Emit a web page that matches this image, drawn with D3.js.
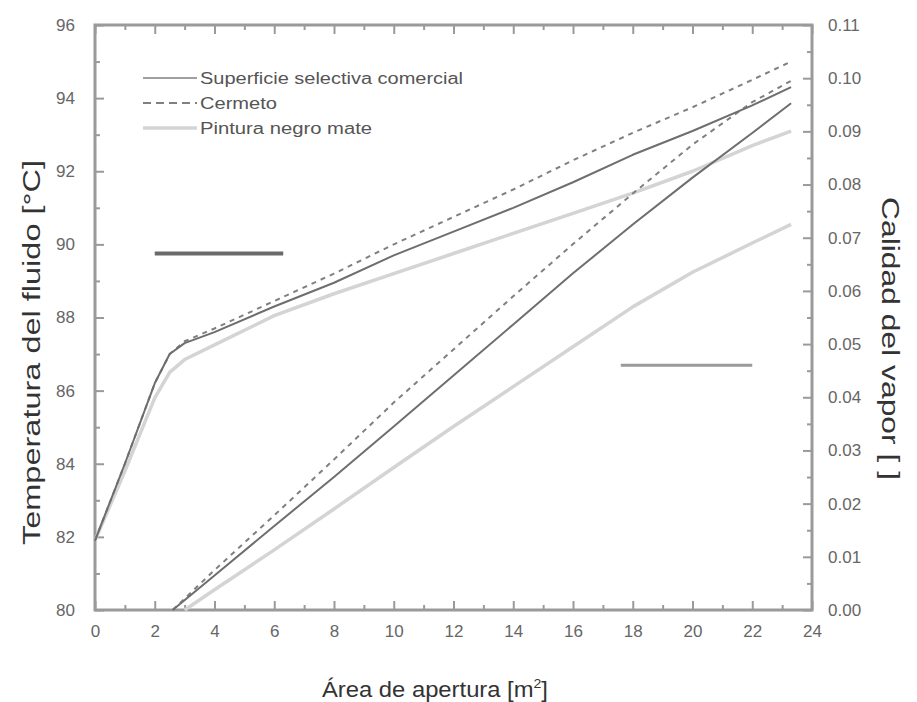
<!DOCTYPE html>
<html>
<head>
<meta charset="utf-8">
<script src="https://cdn.jsdelivr.net/npm/d3@7"></script>
<style>
  body { margin: 0; background: #fff; }
  svg { font-family: "Liberation Sans", Arial, sans-serif; }
</style>
</head>
<body>
<svg width="917" height="702"></svg>
<script>
// Temperature curves (left axis)
const area = [0, 1, 2, 2.5, 3, 4, 6, 8, 10, 12, 14, 16, 18, 20, 22, 23.3];
const tempSuperficie = [81.9, 84.0, 86.2, 87.0, 87.3, 87.6, 88.3, 88.95, 89.7, 90.35, 91.0, 91.7, 92.45, 93.1, 93.8, 94.3];
const tempCermeto    = [81.9, 84.0, 86.2, 87.0, 87.35, 87.7, 88.45, 89.2, 90.0, 90.75, 91.5, 92.3, 93.05, 93.75, 94.5, 95.0];
const tempPintura    = [81.9, 83.8, 85.8, 86.5, 86.85, 87.25, 88.05, 88.65, 89.2, 89.75, 90.3, 90.85, 91.4, 92.0, 92.7, 93.1];

// Steam quality curves (right axis)
const areaQ = [2.6, 4, 6, 8, 10, 12, 14, 16, 18, 20, 22, 23.3];
const qualSuperficie = [0, 0.0065, 0.0158, 0.025, 0.0345, 0.0441, 0.0537, 0.0633, 0.0725, 0.0813, 0.0897, 0.0953];
const qualCermeto    = [0, 0.0075, 0.0178, 0.0283, 0.039, 0.049, 0.059, 0.0688, 0.0783, 0.0875, 0.0955, 0.0995];
const areaQP = [3.0, 4, 6, 8, 10, 12, 14, 16, 18, 20, 22, 23.3];
const qualPintura    = [0, 0.0038, 0.0113, 0.019, 0.0268, 0.0345, 0.042, 0.0495, 0.057, 0.0635, 0.069, 0.0725];

const seriesNames = ["Superficie selectiva comercial", "Cermeto", "Pintura negro mate"];
const xTicks = d3.range(0, 25, 2);
const yTicks = d3.range(80, 97, 2);
const y2Ticks = d3.range(0, 0.1101, 0.01);

// arrows pointing to the axis each family belongs to
const arrowLeft = { x0: 2.0, x1: 6.3, t: 89.75 };
const arrowRight = { x0: 17.6, x1: 22.0, q: 0.046 };

const svg = d3.select("svg");
const margin = { left: 95, right: 105, top: 25, bottom: 92 };
const width = +svg.attr("width");
const height = +svg.attr("height");

const x = d3.scaleLinear().domain([0, 24]).range([margin.left, width - margin.right]);
const y = d3.scaleLinear().domain([80, 96]).range([height - margin.bottom, margin.top]);
const y2 = d3.scaleLinear().domain([0, 0.11]).range([height - margin.bottom, margin.top]);

const styles = [
  { stroke: "#6e6e6e", width: 2, dash: null },
  { stroke: "#808080", width: 2, dash: "5,5" },
  { stroke: "#d4d4d4", width: 3.5, dash: null }
];

// axes
const axisColor = "#9a9a9a";
function styleAxis(g) {
  g.select(".domain").remove();
  g.selectAll(".tick line").attr("stroke", axisColor).attr("stroke-width", 2);
  g.selectAll(".tick text").attr("fill", "#666").attr("font-size", 17);
}

const bottom = height - margin.bottom;
svg.append("g").attr("transform", `translate(0,${bottom})`)
  .call(d3.axisBottom(x).tickValues(xTicks).tickSize(-9).tickPadding(15).tickFormat(d3.format("d")))
  .call(styleAxis);
svg.append("g").attr("transform", `translate(0,${bottom})`)
  .call(d3.axisBottom(x).tickValues(d3.range(1, 24, 2)).tickSize(-5).tickFormat(""))
  .call(styleAxis);
svg.append("g").attr("transform", `translate(0,${margin.top})`)
  .call(d3.axisTop(x).tickValues(xTicks).tickSize(-9).tickFormat(""))
  .call(styleAxis);
svg.append("g").attr("transform", `translate(0,${margin.top})`)
  .call(d3.axisTop(x).tickValues(d3.range(1, 24, 2)).tickSize(-5).tickFormat(""))
  .call(styleAxis);

svg.append("g").attr("transform", `translate(${margin.left},0)`)
  .call(d3.axisLeft(y).tickValues(yTicks).tickSize(-9).tickPadding(20).tickFormat(d3.format("d")))
  .call(styleAxis);
svg.append("g").attr("transform", `translate(${margin.left},0)`)
  .call(d3.axisLeft(y).tickValues(d3.range(81, 96, 2)).tickSize(-5).tickFormat(""))
  .call(styleAxis);

const right = width - margin.right;
svg.append("g").attr("transform", `translate(${right},0)`)
  .call(d3.axisRight(y2).tickValues(y2Ticks).tickSize(-9).tickPadding(16).tickFormat(d3.format(".2f")))
  .call(styleAxis);
svg.append("g").attr("transform", `translate(${right},0)`)
  .call(d3.axisRight(y2).tickValues(d3.range(0.005, 0.11, 0.01)).tickSize(-5).tickFormat(""))
  .call(styleAxis);

// frame
svg.append("rect")
  .attr("x", margin.left).attr("y", margin.top)
  .attr("width", right - margin.left).attr("height", bottom - margin.top)
  .attr("fill", "none").attr("stroke", axisColor).attr("stroke-width", 3);

// lines
const lineT = d3.line().x(d => x(d[0])).y(d => y(d[1]));
const lineQ = d3.line().x(d => x(d[0])).y(d => y2(d[1]));

const tempSeries = [tempSuperficie, tempCermeto, tempPintura];
const qualSeries = [
  [areaQ, qualSuperficie],
  [areaQ, qualCermeto],
  [areaQP, qualPintura]
];

// draw light series first so darker ones sit on top
[2, 1, 0].forEach(i => {
  const s = styles[i];
  svg.append("path")
    .datum(d3.zip(area, tempSeries[i]))
    .attr("d", lineT)
    .attr("fill", "none").attr("stroke", s.stroke).attr("stroke-width", s.width)
    .attr("stroke-linejoin", "round")
    .attr("stroke-dasharray", s.dash);
  svg.append("path")
    .datum(d3.zip(qualSeries[i][0], qualSeries[i][1]))
    .attr("d", lineQ)
    .attr("fill", "none").attr("stroke", s.stroke).attr("stroke-width", s.width)
    .attr("stroke-linejoin", "round")
    .attr("stroke-dasharray", s.dash);
});

// axis indicator arrows
svg.append("line")
  .attr("x1", x(arrowLeft.x0)).attr("x2", x(arrowLeft.x1))
  .attr("y1", y(arrowLeft.t)).attr("y2", y(arrowLeft.t))
  .attr("stroke", "#6a6a6a").attr("stroke-width", 4);
svg.append("line")
  .attr("x1", x(arrowRight.x0)).attr("x2", x(arrowRight.x1))
  .attr("y1", y2(arrowRight.q)).attr("y2", y2(arrowRight.q))
  .attr("stroke", "#9a9a9a").attr("stroke-width", 3);

// legend
const legendWidths = [263, 77, 172];
const legend = svg.append("g").attr("transform", "translate(143,78)");
seriesNames.forEach((name, i) => {
  const g = legend.append("g").attr("transform", `translate(0,${i * 25})`);
  g.append("line").attr("x1", 0).attr("x2", 54)
    .attr("stroke", i === 0 ? "#a0a0a0" : styles[i].stroke)
    .attr("stroke-width", styles[i].width)
    .attr("stroke-dasharray", i === 1 ? "8,5" : styles[i].dash);
  g.append("text").attr("x", 57).attr("dy", "0.35em")
    .attr("font-size", 16).attr("fill", "#555")
    .attr("textLength", legendWidths[i]).attr("lengthAdjust", "spacingAndGlyphs")
    .text(name);
});

// axis titles
const xTitle = svg.append("text")
  .attr("x", 322).attr("y", 697)
  .attr("font-size", 22).attr("fill", "#333")
  .attr("textLength", 226).attr("lengthAdjust", "spacingAndGlyphs");
xTitle.append("tspan").text("Área de apertura [m");
xTitle.append("tspan").attr("font-size", 13).attr("dy", -9).text("2");
xTitle.append("tspan").attr("dy", 9).text("]");

svg.append("text")
  .attr("transform", `translate(40,${(160 + 545) / 2}) rotate(-90)`)
  .attr("text-anchor", "middle").attr("font-size", 23).attr("fill", "#333")
  .attr("textLength", 385).attr("lengthAdjust", "spacingAndGlyphs")
  .text("Temperatura del fluido [°C]");

svg.append("text")
  .attr("transform", `translate(882,${(197 + 480) / 2}) rotate(90)`)
  .attr("text-anchor", "middle").attr("font-size", 23).attr("fill", "#333")
  .attr("textLength", 283).attr("lengthAdjust", "spacingAndGlyphs")
  .text("Calidad del vapor [ ]");
</script>
</body>
</html>
